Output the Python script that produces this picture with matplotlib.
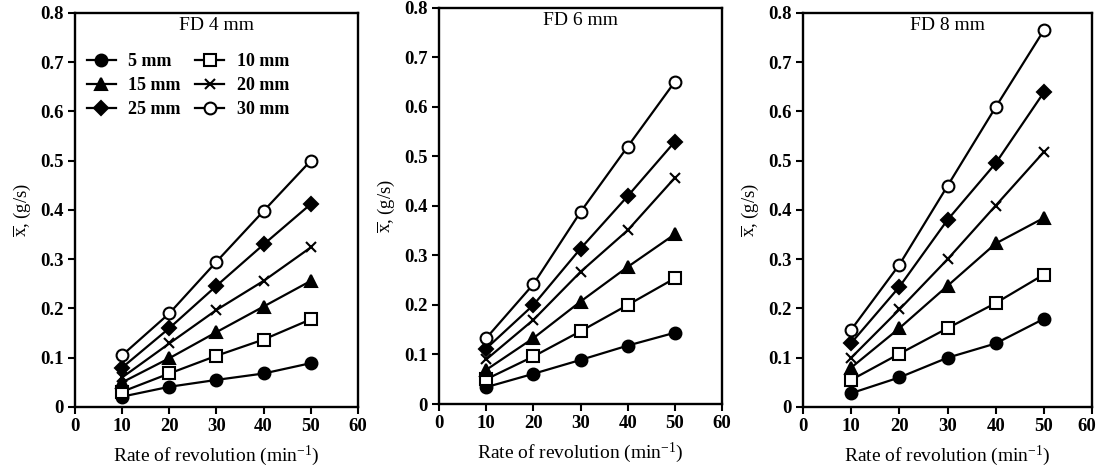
import numpy as np
import matplotlib
matplotlib.use('Agg')
import matplotlib.pyplot as plt
import matplotlib.transforms as mtransforms

plt.rcParams['font.family'] = ['Liberation Serif', 'DejaVu Serif']
plt.rcParams['mathtext.fontset'] = 'custom'
plt.rcParams['mathtext.rm'] = 'Liberation Serif'
plt.rcParams['mathtext.it'] = 'Liberation Serif:italic'
plt.rcParams['mathtext.bf'] = 'Liberation Serif:bold'

# Data
rpm = [10, 20, 30, 40, 50]
labels = ['5 mm', '10 mm', '15 mm', '20 mm', '25 mm', '30 mm']
titles = ['FD 4 mm', 'FD 6 mm', 'FD 8 mm']

fd4 = [
    [0.021, 0.041, 0.055, 0.068, 0.089],
    [0.031, 0.068, 0.104, 0.137, 0.178],
    [0.050, 0.099, 0.152, 0.204, 0.256],
    [0.060, 0.129, 0.197, 0.256, 0.324],
    [0.080, 0.160, 0.246, 0.330, 0.412],
    [0.105, 0.190, 0.295, 0.398, 0.500],
]
fd6 = [
    [0.034, 0.061, 0.089, 0.118, 0.144],
    [0.050, 0.096, 0.147, 0.200, 0.254],
    [0.069, 0.133, 0.207, 0.277, 0.343],
    [0.090, 0.170, 0.267, 0.351, 0.457],
    [0.112, 0.200, 0.314, 0.420, 0.530],
    [0.133, 0.242, 0.388, 0.520, 0.651],
]
fd8 = [
    [0.028, 0.060, 0.100, 0.129, 0.179],
    [0.055, 0.108, 0.160, 0.211, 0.269],
    [0.080, 0.160, 0.246, 0.332, 0.384],
    [0.100, 0.198, 0.300, 0.409, 0.518],
    [0.130, 0.244, 0.380, 0.495, 0.639],
    [0.157, 0.289, 0.449, 0.609, 0.765],
]

markers = ['o', 's', '^', 'x', 'D', 'o']
fills = ['black', 'white', 'black', 'black', 'black', 'white']
sizes = [8.5, 8, 9, 7.5, 7.5, 8.5]

fig = plt.figure(figsize=(10.99, 4.67), dpi=100)
positions = [
    [0.0682, 0.1285, 0.2575, 0.8437],
    [0.3995, 0.1349, 0.2575, 0.8480],
    [0.7307, 0.1285, 0.2630, 0.8437],
]

for k, data in enumerate([fd4, fd6, fd8]):
    ax = fig.add_axes(positions[k])
    handles = []
    for i, ys in enumerate(data):
        h, = ax.plot(rpm, ys, color='black', lw=1.6, marker=markers[i],
                     ms=sizes[i], mfc=fills[i], mec='black', mew=1.5,
                     label=labels[i])
        handles.append(h)
    ax.set_xlim(0, 60)
    ax.set_ylim(0, 0.8)
    ax.set_xticks(np.arange(0, 61, 10))
    ax.set_yticks(np.arange(0, 0.81, 0.1))
    ax.set_yticklabels(['0'] + ['%.1f' % v for v in np.arange(0.1, 0.81, 0.1)])
    for lab in ax.get_xticklabels() + ax.get_yticklabels():
        lab.set_fontweight('bold')
        lab.set_fontsize(13.5)
    ax.tick_params(direction='out', length=5, width=1.5, pad=3)
    for s in ax.spines.values():
        s.set_linewidth(1.7)
    if k == 2:
        # last tick label sits against the figure edge
        last = ax.get_xticklabels()[-1]
        shift = mtransforms.ScaledTranslation(-5 / 100, 0, fig.dpi_scale_trans)
        last.set_transform(last.get_transform() + shift)
    ax.set_xlabel(r'Rate of revolution (min$^{-1}$)', fontsize=14, labelpad=6)
    ax.set_ylabel(r'$\overline{\mathrm{x}}$, (g/s)', fontsize=13.5, labelpad=5)
    ax.text(0.5, 0.99, titles[k], transform=ax.transAxes, ha='center',
            va='top', fontsize=14)
    if k == 0:
        order = [0, 2, 4, 1, 3, 5]
        ax.legend([handles[j] for j in order], [labels[j] for j in order],
                  ncol=2, loc='upper left', bbox_to_anchor=(-0.015, 0.94),
                  frameon=False, handlelength=1.6, handletextpad=0.7,
                  columnspacing=0.8, labelspacing=0.4,
                  prop={'weight': 'bold', 'size': 13})

fig.savefig('out.png', dpi=100)
